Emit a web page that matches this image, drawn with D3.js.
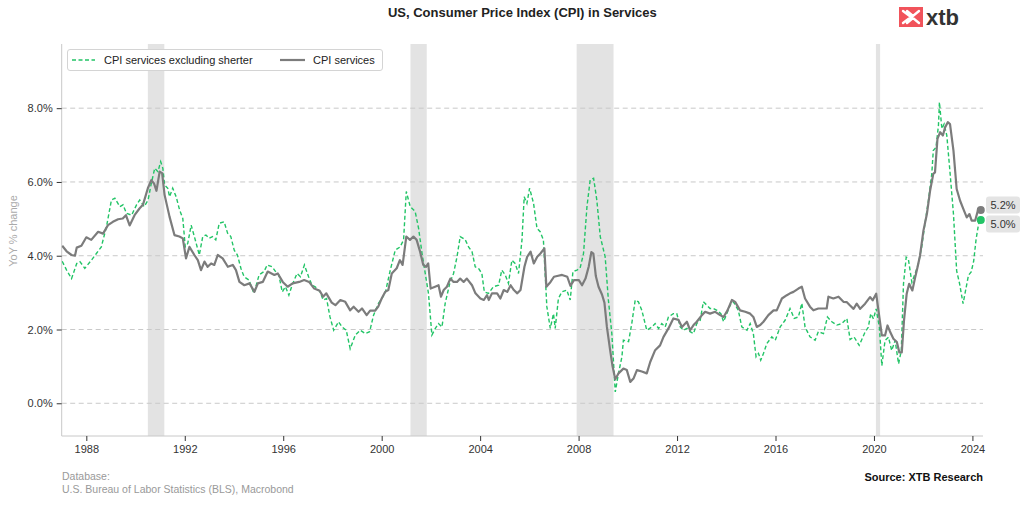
<!DOCTYPE html>
<html><head><meta charset="utf-8">
<script src="https://cdn.jsdelivr.net/npm/d3@7"></script>
<style>
html,body{margin:0;padding:0;background:#fff;}
svg{display:block;font-family:"Liberation Sans",Arial,sans-serif;}
</style></head>
<body>
<svg id="chart" width="1024" height="505"></svg>
<script>
// ---------- DATA ----------
const title = "US, Consumer Price Index (CPI) in Services";
const seriesNames = ["CPI services excluding sherter", "CPI services"];
const yTicks = [0, 2, 4, 6, 8];
const xTicks = [1988, 1992, 1996, 2000, 2004, 2008, 2012, 2016, 2020, 2024];
const recessions = [[1990.50, 1991.17], [2001.17, 2001.83], [2007.92, 2009.42], [2020.08, 2020.25]];

const svcYears = [1987.02,1987.20,1987.40,1987.54,1987.61,1987.80,1988.00,1988.20,1988.48,1988.68,1988.88,1989.08,1989.29,1989.48,1989.61,1989.76,1989.96,1990.16,1990.30,1990.50,1990.64,1990.75,1990.85,1990.98,1991.08,1991.18,1991.38,1991.58,1991.78,1991.92,1992.05,1992.19,1992.39,1992.53,1992.66,1992.80,1992.93,1993.07,1993.20,1993.34,1993.54,1993.75,1993.95,1994.08,1994.22,1994.42,1994.63,1994.83,1994.97,1995.17,1995.37,1995.64,1995.78,1995.98,1996.18,1996.38,1996.65,1996.85,1997.05,1997.26,1997.48,1997.62,1997.75,1997.97,1998.12,1998.32,1998.52,1998.72,1998.86,1999.06,1999.20,1999.39,1999.53,1999.73,1999.86,2000.00,2000.14,2000.27,2000.41,2000.61,2000.74,2000.85,2001.00,2001.15,2001.29,2001.42,2001.56,2001.69,2001.80,2001.89,2001.99,2002.17,2002.31,2002.41,2002.52,2002.65,2002.79,2002.92,2003.06,2003.19,2003.33,2003.46,2003.67,2003.81,2004.01,2004.15,2004.28,2004.35,2004.48,2004.69,2004.82,2004.96,2005.10,2005.24,2005.37,2005.51,2005.64,2005.80,2005.91,2006.05,2006.18,2006.32,2006.45,2006.61,2006.69,2006.86,2007.00,2007.13,2007.33,2007.54,2007.67,2007.81,2008.01,2008.14,2008.28,2008.41,2008.52,2008.60,2008.70,2008.81,2008.95,2009.05,2009.15,2009.28,2009.38,2009.49,2009.62,2009.82,2009.96,2010.10,2010.23,2010.37,2010.57,2010.77,2010.91,2011.11,2011.31,2011.45,2011.65,2011.85,2012.06,2012.20,2012.40,2012.53,2012.67,2012.80,2013.01,2013.14,2013.34,2013.55,2013.75,2013.89,2014.05,2014.23,2014.36,2014.56,2014.77,2014.97,2015.10,2015.24,2015.38,2015.51,2015.71,2015.92,2016.05,2016.26,2016.46,2016.59,2016.73,2016.93,2017.07,2017.20,2017.40,2017.54,2017.74,2017.95,2018.08,2018.15,2018.35,2018.56,2018.76,2018.90,2019.03,2019.17,2019.30,2019.44,2019.64,2019.84,2019.95,2020.09,2020.22,2020.32,2020.45,2020.55,2020.66,2020.79,2020.93,2021.03,2021.13,2021.22,2021.33,2021.43,2021.56,2021.67,2021.77,2021.87,2022.01,2022.15,2022.28,2022.41,2022.48,2022.58,2022.69,2022.80,2022.89,2023.00,2023.09,2023.23,2023.36,2023.50,2023.63,2023.77,2023.88,2023.97,2024.11,2024.24,2024.34];
const svcValues = [4.27,4.12,4.02,4.00,4.22,4.27,4.50,4.43,4.65,4.60,4.83,4.92,4.99,5.01,5.10,4.82,5.10,5.28,5.38,5.83,6.05,5.96,5.76,6.28,6.24,5.65,5.06,4.56,4.52,4.47,3.93,4.24,4.02,3.88,3.61,3.84,3.70,3.79,3.75,4.02,3.93,3.70,3.75,3.61,3.29,3.20,3.25,3.02,3.25,3.29,3.57,3.48,3.52,3.29,3.16,3.25,3.29,3.34,3.29,3.11,3.05,2.89,2.98,2.73,2.66,2.80,2.75,2.52,2.62,2.48,2.57,2.39,2.51,2.51,2.62,2.84,3.02,3.07,3.52,3.66,3.88,3.75,4.52,4.43,4.52,4.43,4.11,3.75,3.70,3.79,3.11,3.16,3.20,2.89,3.07,3.16,3.38,3.29,3.29,3.38,3.29,3.38,3.20,2.98,2.84,2.80,2.93,2.80,2.98,2.98,2.84,3.07,3.02,3.20,3.07,2.98,3.07,3.70,3.97,4.11,3.79,3.97,4.06,4.20,3.16,3.29,3.43,3.45,3.48,3.43,3.18,3.34,3.34,3.20,3.38,3.70,4.10,4.06,3.45,3.16,2.95,2.73,2.07,1.45,1.00,0.65,0.81,0.94,0.90,0.58,0.67,0.90,0.86,0.81,1.12,1.44,1.57,1.80,2.03,2.30,2.26,2.07,2.21,1.98,2.12,2.21,2.39,2.48,2.43,2.48,2.39,2.34,2.52,2.80,2.75,2.52,2.48,2.43,2.34,2.07,2.12,2.21,2.39,2.52,2.52,2.84,2.93,2.98,3.02,3.11,3.16,2.84,2.62,2.52,2.57,2.57,2.57,2.89,2.84,2.89,2.75,2.74,2.65,2.56,2.70,2.56,2.70,2.88,2.79,2.97,2.33,1.84,1.84,2.11,1.93,1.75,1.66,1.38,1.38,2.24,2.97,3.24,3.06,3.40,3.69,4.00,4.68,5.13,5.76,6.22,6.26,7.17,7.35,7.26,7.48,7.62,7.57,6.85,5.81,5.49,5.27,5.04,5.13,4.95,4.95,5.27,5.24];

const exYears = [1987.02,1987.20,1987.40,1987.61,1987.74,1987.94,1988.21,1988.41,1988.61,1988.82,1989.02,1989.16,1989.36,1989.49,1989.63,1989.84,1990.04,1990.17,1990.35,1990.51,1990.64,1990.78,1990.91,1991.02,1991.11,1991.18,1991.31,1991.38,1991.51,1991.65,1991.79,1991.92,1992.02,1992.12,1992.26,1992.39,1992.59,1992.73,1992.86,1992.99,1993.13,1993.26,1993.40,1993.60,1993.74,1993.87,1994.01,1994.14,1994.28,1994.41,1994.61,1994.81,1995.02,1995.22,1995.35,1995.55,1995.69,1995.82,1995.96,1996.09,1996.23,1996.36,1996.56,1996.70,1996.86,1997.03,1997.17,1997.30,1997.50,1997.62,1997.76,1997.90,1998.05,1998.25,1998.39,1998.56,1998.72,1998.93,1999.13,1999.33,1999.51,1999.67,1999.87,2000.14,2000.35,2000.55,2000.75,2000.89,2001.00,2001.16,2001.36,2001.50,2001.64,2001.77,2001.90,2002.04,2002.18,2002.31,2002.45,2002.58,2002.78,2002.92,2003.06,2003.19,2003.39,2003.53,2003.67,2003.80,2003.93,2004.07,2004.17,2004.34,2004.54,2004.75,2004.88,2005.02,2005.15,2005.29,2005.42,2005.56,2005.70,2005.79,2005.90,2006.01,2006.17,2006.31,2006.44,2006.57,2006.71,2006.85,2006.98,2007.05,2007.18,2007.32,2007.52,2007.66,2007.77,2007.93,2008.06,2008.20,2008.34,2008.47,2008.61,2008.74,2008.88,2009.08,2009.21,2009.35,2009.49,2009.62,2009.76,2009.82,2010.03,2010.16,2010.30,2010.43,2010.57,2010.77,2010.98,2011.11,2011.25,2011.38,2011.52,2011.65,2011.85,2011.99,2012.13,2012.26,2012.40,2012.53,2012.67,2012.80,2012.94,2013.07,2013.21,2013.34,2013.48,2013.62,2013.78,2013.89,2014.02,2014.16,2014.29,2014.49,2014.63,2014.84,2014.97,2015.10,2015.21,2015.31,2015.40,2015.51,2015.65,2015.85,2015.99,2016.19,2016.39,2016.59,2016.76,2016.93,2017.07,2017.20,2017.40,2017.61,2017.74,2017.95,2018.11,2018.29,2018.49,2018.69,2018.90,2019.03,2019.19,2019.40,2019.64,2019.77,2019.87,2019.98,2020.09,2020.22,2020.32,2020.45,2020.59,2020.72,2020.86,2021.00,2021.11,2021.20,2021.31,2021.40,2021.54,2021.67,2021.81,2021.94,2022.05,2022.21,2022.35,2022.41,2022.52,2022.62,2022.66,2022.76,2022.85,2022.96,2023.09,2023.23,2023.36,2023.48,2023.62,2023.84,2023.95,2024.05,2024.15,2024.25,2024.34];
const exValues = [3.85,3.61,3.38,3.79,3.84,3.66,3.88,4.06,4.24,4.79,5.51,5.56,5.33,5.38,5.15,5.10,5.38,5.51,5.33,5.51,5.96,6.37,6.28,6.55,6.37,5.92,5.83,5.60,5.83,5.60,5.24,5.01,4.24,4.33,4.83,4.52,4.02,4.52,4.56,4.47,4.52,4.43,4.88,4.92,4.61,4.52,4.15,4.02,3.66,3.43,3.34,2.98,3.48,3.57,3.75,3.70,3.57,3.48,3.02,3.16,2.93,3.20,3.52,3.43,3.75,3.43,3.20,3.16,3.02,2.80,2.84,2.34,1.98,2.21,2.07,1.98,1.48,1.85,1.98,1.89,1.94,2.39,2.71,2.98,3.61,4.15,4.24,4.43,5.74,5.33,5.20,4.74,4.06,3.52,2.98,1.85,2.03,2.16,2.07,2.71,3.29,3.52,3.97,4.52,4.44,4.24,4.11,3.70,3.66,3.52,3.02,2.98,3.16,3.20,3.61,3.48,3.25,3.88,3.79,3.52,4.43,5.60,5.42,5.83,5.42,4.74,4.65,4.43,2.62,2.03,2.43,2.03,2.84,3.02,3.07,2.80,3.57,3.61,3.66,4.06,5.33,6.05,6.10,5.51,4.52,3.97,2.80,1.89,0.31,0.81,1.26,1.71,1.67,2.16,2.80,2.75,2.52,1.98,2.07,2.16,2.03,2.16,2.07,2.34,2.43,2.43,2.07,1.98,2.03,1.94,1.89,2.16,2.25,2.75,2.66,2.57,2.57,2.52,2.43,2.21,2.43,2.66,2.75,2.52,2.07,1.98,2.16,1.89,1.26,1.35,1.17,1.35,1.62,1.80,1.71,2.07,2.25,2.57,2.30,2.34,2.71,2.07,1.80,1.71,1.94,1.89,2.34,2.21,2.12,2.16,2.30,1.73,1.80,1.57,1.93,2.06,2.43,2.29,2.56,2.06,1.02,1.70,1.79,1.43,1.70,1.07,1.43,3.24,3.96,3.90,3.28,3.51,3.80,4.24,4.77,5.49,6.22,6.85,6.94,7.53,8.16,7.44,7.57,7.26,6.26,5.13,3.59,3.24,2.70,3.47,3.56,3.85,4.45,4.86,4.97];

// ---------- LAYOUT ----------
const svg = d3.select("#chart");
const L = 61.7, R = 983, T = 44, B = 436;
const x = d3.scaleLinear().domain([1987.0, 2024.43]).range([L, R]);
const y = d3.scaleLinear().domain([-0.887, 9.74]).range([B, T]);
const GREEN = "#22c466", GRAY = "#7c7c7c";

// title
svg.append("text").attr("x", (L + R) / 2).attr("y", 17).attr("text-anchor", "middle")
  .attr("font-size", 13).attr("font-weight", "bold").attr("fill", "#222").text(title);

// logo
const lg = svg.append("g");
lg.append("rect").attr("x", 899).attr("y", 7).attr("width", 24).attr("height", 20).attr("fill", "#f1535b");
lg.append("path").attr("d", "M903,11 L911,17 L903,23 M907,11 L913,16 L919,11 M907,23 L913,18 L919,23")
  .attr("stroke", "#fff").attr("stroke-width", 2.4).attr("fill", "none").attr("stroke-linecap", "round");
lg.append("text").attr("x", 926).attr("y", 25).attr("font-size", 22).attr("font-weight", "bold")
  .attr("fill", "#333").text("xtb");

// clip
svg.append("defs").append("clipPath").attr("id", "clip")
  .append("rect").attr("x", L).attr("y", T).attr("width", R - L).attr("height", B - T);

// recessions
svg.append("g").selectAll("rect").data(recessions).join("rect")
  .attr("x", d => x(d[0])).attr("width", d => x(d[1]) - x(d[0]))
  .attr("y", T).attr("height", B - T).attr("fill", "#e3e3e3");

// grid
svg.append("g").selectAll("line").data(yTicks).join("line")
  .attr("x1", L).attr("x2", R).attr("y1", d => y(d)).attr("y2", d => y(d))
  .attr("stroke", "#c9c9c9").attr("stroke-width", 1).attr("stroke-dasharray", "5,3.5");

// axes
const yAxis = svg.append("g").attr("transform", `translate(${L},0)`)
  .call(d3.axisLeft(y).tickValues(yTicks).tickFormat(d => d.toFixed(1) + "%").tickSize(5).tickPadding(4));
yAxis.select(".domain").attr("stroke", "#c8c8c8").attr("d", `M0,${T}V${B}`);
yAxis.selectAll(".tick line").attr("stroke", "#333");
yAxis.selectAll("text").attr("font-size", 11).attr("fill", "#333").attr("font-family", "Liberation Sans, Arial, sans-serif");

const xAxis = svg.append("g").attr("transform", `translate(0,${B})`)
  .call(d3.axisBottom(x).tickValues(xTicks).tickFormat(d3.format("d")).tickSize(5).tickPadding(4));
xAxis.select(".domain").attr("stroke", "#c8c8c8").attr("d", `M${L},0H${R}`);
xAxis.selectAll(".tick line").attr("stroke", "#333");
xAxis.selectAll("text").attr("font-size", 11).attr("fill", "#333").attr("font-family", "Liberation Sans, Arial, sans-serif");

// y label
svg.append("text").attr("transform", "translate(17,231) rotate(-90)").attr("text-anchor", "middle")
  .attr("font-size", 11).attr("fill", "#aaa").text("YoY % change");

// lines
const svcData = svcYears.map((t, i) => [t, svcValues[i]]);
const exData = exYears.map((t, i) => [t, exValues[i]]);
const line = d3.line().x(d => x(d[0])).y(d => y(d[1]));
const plot = svg.append("g").attr("clip-path", "url(#clip)");
plot.append("path").datum(exData).attr("d", line).attr("fill", "none")
  .attr("stroke", GREEN).attr("stroke-width", 1.4).attr("stroke-dasharray", "4,2.5");
plot.append("path").datum(svcData).attr("d", line).attr("fill", "none")
  .attr("stroke", GRAY).attr("stroke-width", 2.2).attr("stroke-linejoin", "round");

// end markers & labels
const lastSvc = svcData[svcData.length - 1], lastEx = exData[exData.length - 1];
svg.append("circle").attr("cx", x(lastSvc[0])).attr("cy", y(lastSvc[1])).attr("r", 4).attr("fill", GRAY);
svg.append("circle").attr("cx", x(lastEx[0])).attr("cy", y(lastEx[1])).attr("r", 4).attr("fill", GREEN);
const labels = [{v: lastSvc[1], cy: y(lastSvc[1]) - 5}, {v: lastEx[1], cy: y(lastEx[1]) + 4}];
labels.forEach(l => {
  svg.append("rect").attr("x", 986).attr("y", l.cy - 8.5).attr("width", 34).attr("height", 17).attr("rx", 3)
    .attr("fill", "#e4e4e4");
  svg.append("text").attr("x", 1003).attr("y", l.cy + 4).attr("text-anchor", "middle")
    .attr("font-size", 11).attr("fill", "#333").text(l.v.toFixed(1) + "%");
});

// legend
const leg = svg.append("g");
leg.append("rect").attr("x", 67.5).attr("y", 49.5).attr("width", 315).attr("height", 21).attr("rx", 2.5)
  .attr("fill", "#fff").attr("stroke", "#d4d4d4");
leg.append("line").attr("x1", 72).attr("x2", 95).attr("y1", 60).attr("y2", 60)
  .attr("stroke", GREEN).attr("stroke-width", 1.4).attr("stroke-dasharray", "4,2.5");
leg.append("text").attr("x", 104).attr("y", 64).attr("font-size", 11).attr("fill", "#222").text(seriesNames[0]);
leg.append("line").attr("x1", 280).attr("x2", 305).attr("y1", 60).attr("y2", 60)
  .attr("stroke", GRAY).attr("stroke-width", 2.2);
leg.append("text").attr("x", 313).attr("y", 64).attr("font-size", 11).attr("fill", "#222").text(seriesNames[1]);

// footer
svg.append("text").attr("x", 62).attr("y", 480).attr("font-size", 10.5).attr("fill", "#999").text("Database:");
svg.append("text").attr("x", 62).attr("y", 493).attr("font-size", 10.5).attr("fill", "#999")
  .text("U.S. Bureau of Labor Statistics (BLS), Macrobond");
svg.append("text").attr("x", 983).attr("y", 481).attr("text-anchor", "end").attr("font-size", 11)
  .attr("font-weight", "bold").attr("fill", "#111").text("Source: XTB Research");
</script>
</body></html>
